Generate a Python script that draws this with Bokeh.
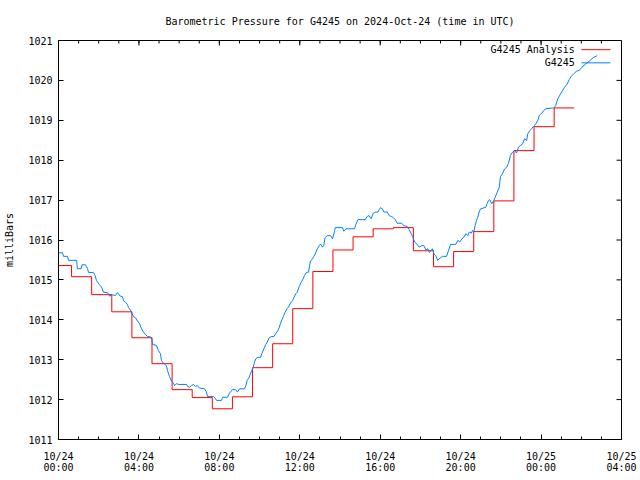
from bokeh.plotting import figure
from bokeh.models import FixedTicker, Range1d, Label
from bokeh.embed import file_html
from bokeh.resources import INLINE

FONT = "DejaVu Sans Mono"

# ---- axes ----
tick_hours = [0, 4, 8, 12, 16, 20, 24, 28]
tick_labels = ["10/24\n00:00", "10/24\n04:00", "10/24\n08:00", "10/24\n12:00",
               "10/24\n16:00", "10/24\n20:00", "10/25\n00:00", "10/25\n04:00"]
minor_hours = list(range(0, 29))
y_ticks = [1011, 1012, 1013, 1014, 1015, 1016, 1017, 1018, 1019, 1020, 1021]

# ---- analysis (hourly, step) ----
analysis_hours = [-0.35, 0.65, 1.65, 2.65, 3.65, 4.65, 5.65, 6.65, 7.65, 8.65,
                  9.65, 10.65, 11.65, 12.65, 13.65, 14.65, 15.65, 16.65, 17.65,
                  18.65, 19.65, 20.65, 21.65, 22.65, 23.65, 24.65, 25.65]
analysis_mbar = [1015.36, 1015.08, 1014.63, 1014.20, 1013.55, 1012.90, 1012.25,
                 1012.05, 1011.77, 1012.07, 1012.80, 1013.40, 1014.28, 1015.21,
                 1015.75, 1016.08, 1016.28, 1016.31, 1015.73, 1015.33, 1015.71,
                 1016.21, 1016.98, 1018.24, 1018.84, 1019.31, 1019.31]

# ---- observations ----
obs_hours = [
    0.00, 0.20, 0.25, 0.45, 0.50, 0.90, 0.94, 1.13, 1.17, 1.34,
    1.44, 1.49, 1.74, 1.82, 1.89, 2.04, 2.14, 2.24, 2.44, 2.54,
    2.64, 2.83, 2.93, 3.08, 3.18, 3.23, 3.33, 3.43, 3.48, 3.53,
    3.63, 3.73, 3.83, 3.93, 4.03, 4.13, 4.23, 4.33, 4.43, 4.53,
    4.63, 4.68, 4.87, 4.97, 5.07, 5.12, 5.22, 5.37, 5.42, 5.52,
    5.62, 5.72, 5.77, 5.87, 5.97, 6.37, 6.42, 6.52, 6.61, 6.71,
    6.81, 6.91, 7.01, 7.26, 7.36, 7.41, 7.71, 7.81, 7.86, 8.11,
    8.16, 8.41, 8.50, 8.65, 8.80, 8.90, 9.00, 9.25, 9.32, 9.38,
    9.48, 9.58, 9.68, 9.75, 9.81, 9.91, 10.05, 10.11, 10.21, 10.31,
    10.38, 10.48, 10.58, 10.71, 10.81, 10.91, 10.98, 11.04, 11.11, 11.18,
    11.27, 11.37, 11.44, 11.54, 11.64, 11.70, 11.80, 11.87, 11.97, 12.07,
    12.17, 12.23, 12.30, 12.37, 12.43, 12.53, 12.63, 12.70, 12.77, 12.87,
    12.97, 13.03, 13.13, 13.19, 13.26, 13.36, 13.53, 13.63, 13.73, 13.76,
    14.12, 14.19, 14.29, 14.72, 14.79, 14.89, 15.25, 15.35, 15.45, 15.55,
    15.65, 15.78, 15.88, 15.95, 16.01, 16.11, 16.18, 16.35, 16.45, 16.55,
    16.65, 16.75, 16.85, 17.07, 17.17, 17.34, 17.44, 17.54, 17.61, 17.71,
    17.84, 17.94, 18.07, 18.17, 18.27, 18.37, 18.44, 18.54, 18.60, 18.67,
    18.76, 18.86, 18.93, 19.10, 19.30, 19.40, 19.50, 19.76, 19.86, 19.96,
    20.06, 20.16, 20.26, 20.36, 20.43, 20.53, 20.59, 20.65, 20.72, 20.79,
    20.85, 20.92, 20.99, 21.25, 21.32, 21.39, 21.45, 21.55, 21.65, 21.72,
    21.82, 21.92, 21.98, 22.08, 22.18, 22.28, 22.38, 22.48, 22.58, 22.68,
    22.78, 22.88, 22.98, 23.08, 23.18, 23.28, 23.34, 23.44, 23.54, 23.61,
    23.74, 23.84, 23.91, 24.04, 24.14, 24.24, 24.63, 24.73, 24.83, 24.97,
    25.07, 25.17, 25.30, 25.40, 25.50, 25.63, 25.76, 25.90, 26.03, 26.19,
    26.39, 26.59, 26.79]
obs_mbar = [
    1015.68, 1015.68, 1015.59, 1015.59, 1015.49, 1015.49, 1015.28, 1015.28, 1015.38, 1015.38,
    1015.29, 1015.19, 1015.18, 1015.11, 1014.98, 1014.88, 1014.82, 1014.69, 1014.68, 1014.59,
    1014.63, 1014.61, 1014.68, 1014.59, 1014.58, 1014.48, 1014.44, 1014.38, 1014.31, 1014.28,
    1014.19, 1014.08, 1014.05, 1013.97, 1013.90, 1013.77, 1013.69, 1013.63, 1013.58, 1013.58,
    1013.55, 1013.38, 1013.36, 1013.23, 1013.15, 1012.98, 1012.91, 1012.85, 1012.73, 1012.58,
    1012.46, 1012.41, 1012.35, 1012.40, 1012.38, 1012.38, 1012.33, 1012.31, 1012.35, 1012.38,
    1012.33, 1012.35, 1012.29, 1012.27, 1012.19, 1012.08, 1012.08, 1012.02, 1011.98, 1011.98,
    1012.06, 1012.06, 1012.16, 1012.25, 1012.25, 1012.19, 1012.27, 1012.27, 1012.35, 1012.48,
    1012.56, 1012.69, 1012.80, 1012.94, 1013.02, 1013.06, 1013.06, 1013.15, 1013.27, 1013.38,
    1013.44, 1013.55, 1013.58, 1013.58, 1013.66, 1013.73, 1013.81, 1013.91, 1014.00, 1014.08,
    1014.19, 1014.28, 1014.32, 1014.42, 1014.48, 1014.55, 1014.65, 1014.69, 1014.83, 1014.94,
    1015.03, 1015.11, 1015.17, 1015.19, 1015.19, 1015.47, 1015.53, 1015.59, 1015.65, 1015.78,
    1015.86, 1015.90, 1015.82, 1015.86, 1016.06, 1016.11, 1016.11, 1016.03, 1016.22, 1016.31,
    1016.31, 1016.22, 1016.28, 1016.28, 1016.39, 1016.51, 1016.51, 1016.59, 1016.61, 1016.53,
    1016.67, 1016.70, 1016.70, 1016.76, 1016.81, 1016.78, 1016.70, 1016.70, 1016.61, 1016.59,
    1016.56, 1016.51, 1016.42, 1016.42, 1016.36, 1016.34, 1016.26, 1016.16, 1016.09, 1015.95,
    1015.89, 1015.82, 1015.86, 1015.86, 1015.75, 1015.78, 1015.69, 1015.74, 1015.78, 1015.65,
    1015.61, 1015.49, 1015.53, 1015.59, 1015.59, 1015.74, 1015.89, 1015.89, 1015.99, 1015.95,
    1016.03, 1016.07, 1016.16, 1016.11, 1016.20, 1016.17, 1016.24, 1016.20, 1016.36, 1016.49,
    1016.57, 1016.70, 1016.78, 1016.82, 1016.92, 1016.99, 1017.01, 1016.91, 1016.99, 1017.07,
    1017.20, 1017.32, 1017.59, 1017.66, 1017.78, 1017.82, 1017.92, 1018.12, 1018.20, 1018.24,
    1018.18, 1018.33, 1018.37, 1018.41, 1018.54, 1018.49, 1018.66, 1018.74, 1018.79, 1018.84,
    1018.91, 1019.00, 1019.12, 1019.18, 1019.25, 1019.29, 1019.31, 1019.37, 1019.54, 1019.66,
    1019.75, 1019.83, 1019.91, 1020.02, 1020.10, 1020.17, 1020.23, 1020.25, 1020.33, 1020.40,
    1020.48, 1020.57, 1020.62]

series_names = ["G4245 Analysis", "G4245"]
series_colors = ["#ff0000", "#0080ff"]

# legend placement (data units, top-right corner of the frame)
legend_text_x = 25.68
legend_line_x = [26.01, 27.45]
legend_rows_y = [1020.77, 1020.44]

X0, X1, Y0, Y1 = 0, 28, 1011, 1021
W, H = 640, 480
BL, BR, BT, BB = 58, 19, 40, 41

p = figure(width=W, height=H,
           x_range=Range1d(X0, X1), y_range=Range1d(Y0, Y1),
           output_backend="svg", toolbar_location=None,
           min_border_left=BL, min_border_right=BR,
           min_border_top=BT, min_border_bottom=BB,
           title="Barometric Pressure for G4245 on 2024-Oct-24 (time in UTC)")

p.title.align = "center"
p.title.text_font = FONT
p.title.text_font_size = "10px"
p.title.text_font_style = "normal"
p.title.text_color = "black"
p.title.standoff = 27

p.xgrid.visible = False
p.ygrid.visible = False
p.outline_line_color = "black"
p.outline_line_width = 1
p.background_fill_color = "white"
p.border_fill_color = "white"

xa = p.xaxis[0]
xa.ticker = FixedTicker(ticks=tick_hours, minor_ticks=minor_hours)
xa.major_label_overrides = {h: l for h, l in zip(tick_hours, tick_labels)}
ya = p.yaxis[0]
ya.ticker = FixedTicker(ticks=y_ticks, minor_ticks=[])
ya.axis_label = "milliBars"

for ax in (xa, ya):
    ax.major_tick_in = 5
    ax.major_tick_out = 0
    ax.minor_tick_in = 3
    ax.minor_tick_out = 0
    ax.major_label_text_font = FONT
    ax.major_label_text_font_size = "10px"
    ax.major_label_text_color = "black"
    ax.axis_line_color = "black"
    ax.major_tick_line_color = "black"
    ax.minor_tick_line_color = "black"
    ax.axis_label_text_font = FONT
    ax.axis_label_text_font_size = "10px"
    ax.axis_label_text_font_style = "normal"
    ax.axis_label_text_color = "black"
xa.major_label_standoff = 11
xa.major_label_text_line_height = 1.0
ya.major_label_standoff = 6
ya.axis_label_standoff = 10

# mirrored inward ticks on top and right borders (gnuplot style)
frame_w = W - BL - BR
frame_h = H - BT - BB
major_len_x = 5 * (X1 - X0) / frame_w
major_len_y = 5 * (Y1 - Y0) / frame_h
minor_len_y = 3 * (Y1 - Y0) / frame_h
p.segment(x0=minor_hours, x1=minor_hours, y0=[Y1] * len(minor_hours),
          y1=[Y1 - minor_len_y] * len(minor_hours), line_color="black", line_width=1)
p.segment(x0=tick_hours, x1=tick_hours, y0=[Y1] * len(tick_hours),
          y1=[Y1 - major_len_y] * len(tick_hours), line_color="black", line_width=1)
p.segment(x0=[X1] * len(y_ticks), x1=[X1 - major_len_x] * len(y_ticks),
          y0=y_ticks, y1=y_ticks, line_color="black", line_width=1)

p.step(analysis_hours, analysis_mbar, mode="after",
       line_color=series_colors[0], line_width=1)
p.line(obs_hours, obs_mbar, line_color=series_colors[1], line_width=1)

for name, color, yy in zip(series_names, series_colors, legend_rows_y):
    p.add_layout(Label(x=legend_text_x, y=yy, text=name, text_align="right",
                       text_baseline="middle", text_font=FONT,
                       text_font_size="10px", text_color="black"))
    p.line(legend_line_x, [yy, yy], line_color=color, line_width=1)

open("out.html", "w").write(file_html(p, INLINE))
